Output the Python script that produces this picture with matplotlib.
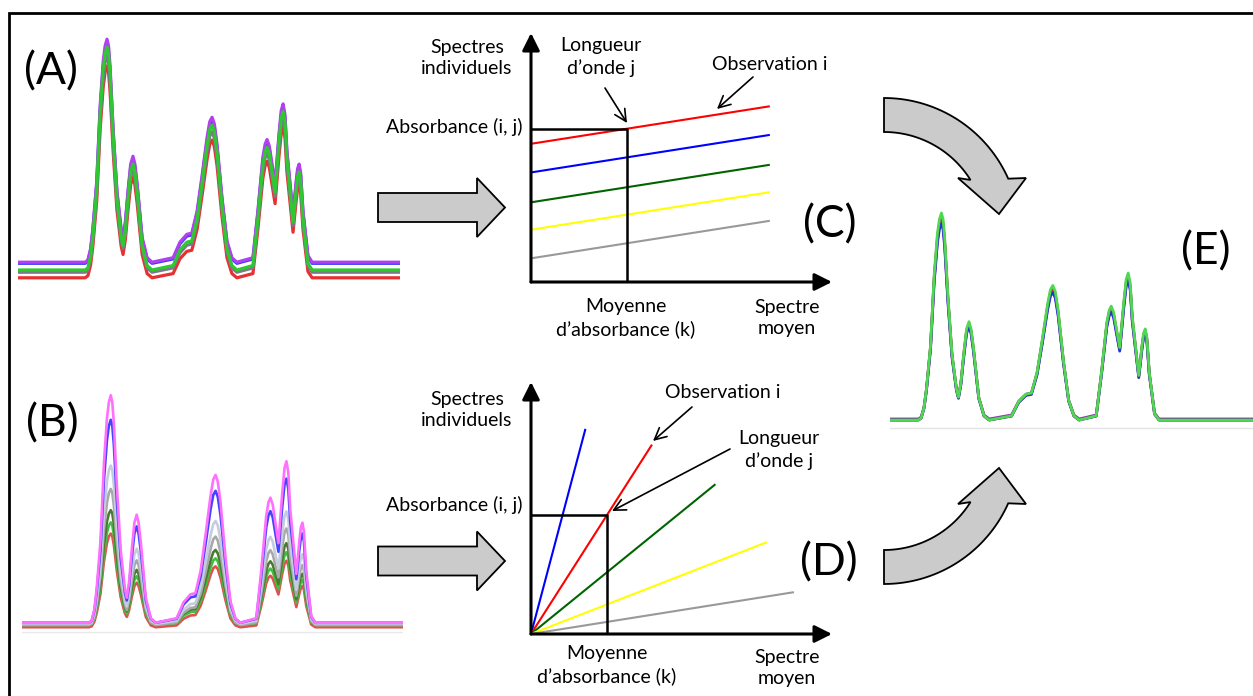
import matplotlib.pyplot as plt
from matplotlib.patches import Polygon
import numpy as np

plt.rcParams['font.family'] = ['Lato', 'DejaVu Sans']

W, H = 1253, 696

# reference spectrum: wavelength index and absorbance
wl = [0, 11.0, 17.6, 18.3, 19.0, 19.6, 20.6, 21.5, 22.3, 22.8, 23.3, 23.7, 24.1,
      24.9, 25.9, 27.0, 27.5, 28.1, 28.8, 29.5, 30.1, 30.6, 31.2, 32.5, 33.8,
      35.1, 40.6, 42.4, 44.2, 45.5, 46.9, 48.2, 49.5, 50.2, 50.8, 51.4, 52.1,
      53.4, 54.7, 56.0, 57.3, 61.5, 62.8, 64.1, 64.7, 65.2, 65.8, 66.5, 67.3,
      68.3, 68.9, 69.4, 69.9, 70.4, 72.0, 72.8, 73.2, 73.6, 74.0, 74.6, 75.9,
      77.0, 100]
absorb = [0.0, 0.0, 0.0, 0.01, 0.06, 0.15, 0.36, 0.70, 0.90, 0.97, 1.0, 0.97, 0.88,
          0.60, 0.32, 0.15, 0.11, 0.18, 0.32, 0.44, 0.475, 0.44, 0.35, 0.11, 0.02,
          0.0, 0.02, 0.09, 0.125, 0.13, 0.23, 0.39, 0.56, 0.63, 0.65, 0.62, 0.53,
          0.29, 0.095, 0.02, 0.0, 0.02, 0.23, 0.47, 0.53, 0.55, 0.52, 0.44, 0.35,
          0.57, 0.68, 0.71, 0.66, 0.50, 0.215, 0.36, 0.42, 0.44, 0.40, 0.23, 0.03,
          0.0, 0.0]

# (A) raw spectra with additive baseline shifts
a_colors = ['#e83030', '#7a7a8a', '#3a3aff', '#b040f0', '#30c830']
a_offsets = [-0.035, -0.01, 0.03, 0.035, 0.0]
a_scales = [0.95, 0.97, 0.98, 1.0, 1.0]

# (B) raw spectra with multiplicative effects
b_colors = ['#e05050', '#40c040', '#4a7a30', '#a8a8a8', '#c4cce0', '#4444ff', '#ff70ff']
b_scales = [0.42, 0.46, 0.51, 0.61, 0.71, 0.91, 1.02]
b_offsets = [-0.01, 0.0, 0.005, 0.0, 0.005, 0.01, 0.01]

# (E) corrected spectra
e_colors = ['#9030c0', '#d03030', '#3030d0', '#50d850']
e_scales = [0.96, 0.98, 0.95, 1.0]
e_offsets = [0.005, 0.0, 0.0, 0.0]

# (C) additive model: intercept + slope * mean spectrum
c_colors = ['#ff0000', '#0000ff', '#006400', '#ffff00', '#999999']
c_intercepts = [5.55, 4.4, 3.2, 2.1, 0.95]
c_slope = 0.19
c_end = 7.9
c_k = 3.2

# (D) multiplicative model: slope * mean spectrum
d_colors = ['#0000ff', '#ff0000', '#006400', '#ffff00', '#999999']
d_slopes = [4.5, 1.87, 0.97, 0.465, 0.19]
d_ends = [1.8, 4.0, 6.1, 7.8, 8.7]
d_k = 2.52
d_red = 1

fig = plt.figure(figsize=(W / 100, H / 100), dpi=100)
canvas = fig.add_axes([0, 0, 1, 1])
canvas.set_xlim(0, W)
canvas.set_ylim(H, 0)
canvas.axis('off')


def px_axes(left, right, y_zero, ppu, xlim, ylim):
    top = y_zero - ylim[1] * ppu
    bottom = y_zero - ylim[0] * ppu
    ax = fig.add_axes([left / W, 1 - bottom / H, (right - left) / W, (bottom - top) / H])
    ax.set_xlim(*xlim)
    ax.set_ylim(*ylim)
    ax.axis('off')
    ax.patch.set_alpha(0)
    return ax


spec = np.array(absorb)

axA = px_axes(18, 400, 270, 223, (0, 100), (-0.12, 1.05))
for c, off, sc in zip(a_colors, a_offsets, a_scales):
    axA.plot(wl, spec * sc + off, color=c, lw=2.3, solid_joinstyle='round')

axB = px_axes(22, 403, 625, 223, (0, 100), (-0.12, 1.05))
axB.axhline(-0.03, color='#e8e8e8', lw=1)
for c, off, sc in zip(b_colors, b_offsets, b_scales):
    axB.plot(wl, spec * sc + off, color=c, lw=1.9, solid_joinstyle='round')

axE = px_axes(890, 1253, 420, 207, (10.6, 100.2), (-0.12, 1.05))
axE.axhline(-0.038, color='#e4e4e4', lw=1)
for c, off, sc in zip(e_colors, e_offsets, e_scales):
    axE.plot(wl, spec * sc + off, color=c, lw=2.0, solid_joinstyle='round')


def schema_axes(ax):
    arrow = dict(arrowstyle='-|>,head_length=0.7,head_width=0.35', lw=2.2,
                 color='black', mutation_scale=15, shrinkA=0, shrinkB=0)
    ax.annotate('', xy=(1, 0), xytext=(0, 0), xycoords='axes fraction', arrowprops=arrow)
    ax.annotate('', xy=(0, 1), xytext=(0, 0), xycoords='axes fraction', arrowprops=arrow)


axC = px_axes(531, 832, 282, 24.9, (0, 10), (0, 10))
schema_axes(axC)
for c, b in zip(c_colors, c_intercepts):
    axC.plot([0, c_end], [b, b + c_slope * c_end], color=c, lw=1.5)
c_top = c_intercepts[0] + c_slope * c_k
axC.plot([0, c_k, c_k], [c_top, c_top, 0], color='black', lw=1.8)

axD = px_axes(531, 832, 634, 25.2, (0, 10), (0, 10))
schema_axes(axD)
for c, s, e in zip(d_colors, d_slopes, d_ends):
    axD.plot([0, e], [0, s * e], color=c, lw=1.5)
d_top = d_slopes[d_red] * d_k
axD.plot([0, d_k, d_k], [d_top, d_top, 0], color='black', lw=1.8)

# frame
canvas.plot([9, 9, W], [H, 13, 13], color='black', lw=2, solid_joinstyle='miter')

# straight block arrows
grey = '#cbcbcb'
for yc in (207.5, 561):
    pts = [(378, yc - 14.5), (477, yc - 14.5), (477, yc - 29.5), (505, yc),
           (477, yc + 29.5), (477, yc + 14.5), (378, yc + 14.5)]
    canvas.add_patch(Polygon(pts, closed=True, fc=grey, ec='black', lw=1.3))

# curved block arrows
cx, cy = 884, 234
th_o = np.radians(np.linspace(90, 24, 40))
th_i = np.radians(np.linspace(32, 90, 40))
top_pts = [(cx + 136 * np.cos(t), cy - 136 * np.sin(t)) for t in th_o]
top_pts += [(1026, 178), (999, 214), (958, 178)]
top_pts += [(cx + 102 * np.cos(t), cy - 102 * np.sin(t)) for t in th_i]
canvas.add_patch(Polygon(top_pts, closed=True, fc=grey, ec='black', lw=1.3))
bot_pts = [(x, 682 - y) for x, y in top_pts]
canvas.add_patch(Polygon(bot_pts, closed=True, fc=grey, ec='black', lw=1.3))

# labels
fs = 14
kw = dict(fontsize=fs, ha='center', va='center', linespacing=1.3)
canvas.text(467, 58, 'Spectres\nindividuels', **kw)
canvas.text(601, 57, 'Longueur\nd’onde j', **kw)
canvas.text(770, 65, 'Observation i', **kw)
canvas.text(522, 127, 'Absorbance (i, j)', fontsize=fs, ha='right', va='center')
canvas.text(626, 318, 'Moyenne\nd’absorbance (k)', **kw)
canvas.text(787, 318, 'Spectre\nmoyen', **kw)

canvas.text(467, 410, 'Spectres\nindividuels', **kw)
canvas.text(723, 393, 'Observation i', **kw)
canvas.text(779, 450, 'Longueur\nd’onde j', **kw)
canvas.text(522, 505, 'Absorbance (i, j)', fontsize=fs, ha='right', va='center')
canvas.text(607, 665, 'Moyenne\nd’absorbance (k)', **kw)
canvas.text(787, 668, 'Spectre\nmoyen', **kw)

pointer = dict(arrowstyle='->,head_length=0.6,head_width=0.3', lw=1.2,
               color='black', mutation_scale=14, shrinkA=0, shrinkB=0)
for src, dst in [((605, 88), (627, 123)), ((753, 77), (717, 109)),
                 ((692, 407), (653, 441)), ((730, 449), (612, 511))]:
    canvas.annotate('', xy=dst, xytext=src, arrowprops=pointer)

big = dict(fontsize=32, ha='center', va='center')
canvas.text(51, 72, '(A)', **big)
canvas.text(52, 424, '(B)', **big)
canvas.text(830, 225, '(C)', **big)
canvas.text(829, 563, '(D)', **big)
canvas.text(1206, 252, '(E)', **big)

fig.savefig('out.png', dpi=100)
